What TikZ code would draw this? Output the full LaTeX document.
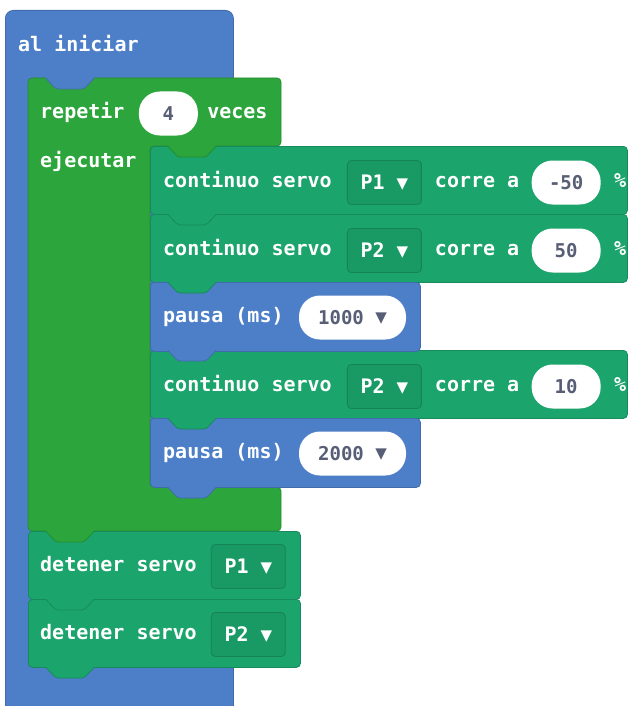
\documentclass[tikz,border=0pt]{standalone}
\usepackage{fontspec}
\setmainfont{DejaVu Sans}
\setmonofont{DejaVu Sans Mono}
\usepackage{tikz}
\usetikzlibrary{positioning}

\definecolor{hatblue}{HTML}{4D7FC8}
\definecolor{loopgreen}{HTML}{2CA53C}
\definecolor{servogreen}{HTML}{1BA46C}
\definecolor{valgrey}{HTML}{575E75}

\newcommand{\ddarrow}{\raisebox{1.5pt}{\rmfamily\fontsize{15}{15}\selectfont ▼}}
\newcommand{\blocktab}[3]{%
    \fill[#3,rounded corners=2pt] (#1+17,#2-1) -- (#1+28,#2+11) -- (#1+56,#2+11) -- (#1+67,#2-1) -- cycle;
    \draw[#3!85!black,line width=0.8pt,rounded corners=2pt] (#1+18,#2+0.5) -- (#1+28,#2+11) -- (#1+56,#2+11) -- (#1+66,#2+0.5);
}

\begin{document}
\begin{tikzpicture}[x=1pt,y=-1pt,
    lbl/.style={inner sep=0pt,text=white,text height=14pt,text depth=4pt,font=\ttfamily\bfseries\fontsize{20}{24}\selectfont},
    blk/.style={rectangle,rounded corners=4pt,line width=0.8pt,inner sep=0pt,anchor=north west},
    pill/.style={rectangle,rounded corners=21pt,fill=white,minimum height=44pt,inner sep=0pt,text=valgrey,font=\ttfamily\bfseries\fontsize{19}{24}\selectfont},
    ddown/.style={rectangle,rounded corners=4pt,fill=servogreen!93!black,draw=servogreen!80!black,line width=0.8pt,minimum width=74pt,minimum height=44pt,inner sep=0pt,text=white,font=\ttfamily\bfseries\fontsize{20}{24}\selectfont}]
    \clip (0,0) rectangle (629,706);

    % Hat block
    \node[blk,fill=hatblue,draw=hatblue!85!black,rounded corners=8pt,minimum width=228pt,minimum height=720pt] (hat) at (5,10) {};
    \node[lbl,anchor=west] (hat-txt) at (18,47) {al iniciar};

    % Repeat loop
    \filldraw[fill=loopgreen,draw=loopgreen!85!black,line width=0.8pt,rounded corners=4pt]
        (28,78) -- (281,78) -- (281,146) -- (150,146) -- (150,487) -- (281,487) -- (281,531) -- (28,531) -- cycle;
    \node[lbl,anchor=west] (rep-txt) at (40,113.5) {repetir};
    \node[pill,minimum width=59pt,right=14pt of rep-txt] (rep-val) {4};
    \node[lbl,right=9pt of rep-val] (rep-veces) {veces};
    \node[lbl,anchor=west] (rep-do) at (40,162) {ejecutar};

    % Servo blocks
    \foreach \n/\y/\p/\v in {1/146/P1/-50,2/214/P2/50,3/350/P2/10} {
        \node[blk,fill=servogreen,draw=servogreen!85!black,minimum width=477pt,minimum height=68pt] (sv\n) at (150,\y) {};
        \node[lbl,anchor=west] (sv\n-txt) at (163,\y+36.5) {continuo servo};
        \node[ddown,right=15pt of sv\n-txt] (sv\n-pin) {\p\ \ddarrow};
        \node[lbl,right=13pt of sv\n-pin] (sv\n-run) {corre a};
        \node[pill,minimum width=69pt,right=12pt of sv\n-run] (sv\n-val) {\v};
        \node[lbl,right=13pt of sv\n-val] (sv\n-pct) {\%};
    }

    % Pause blocks
    \foreach \n/\y/\v in {1/282/1000,2/418/2000} {
        \node[blk,fill=hatblue,draw=hatblue!85!black,minimum width=270pt,minimum height=69pt] (ps\n) at (150,\y) {};
        \node[lbl,anchor=west] (ps\n-txt) at (163,\y+35.5) {pausa (ms)};
        \node[pill,minimum width=107pt,right=15pt of ps\n-txt] (ps\n-val) {\v\ \ddarrow};
    }

    % Stop blocks
    \foreach \n/\y/\p in {1/531/P1,2/599/P2} {
        \node[blk,fill=servogreen,draw=servogreen!85!black,minimum width=272pt,minimum height=68pt] (dt\n) at (28,\y) {};
        \node[lbl,anchor=west] (dt\n-txt) at (40,\y+35.5) {detener servo};
        \node[ddown,right=14pt of dt\n-txt] (dt\n-pin) {\p\ \ddarrow};
    }

    % Tabs
    \foreach \x/\y/\c in {28/78/hatblue,150/146/loopgreen,150/214/servogreen,150/282/servogreen,150/350/hatblue,
                          150/418/servogreen,150/487/hatblue,28/531/loopgreen,28/599/servogreen,28/667/servogreen} {
        \blocktab{\x}{\y}{\c}
    }
\end{tikzpicture}
\end{document}
